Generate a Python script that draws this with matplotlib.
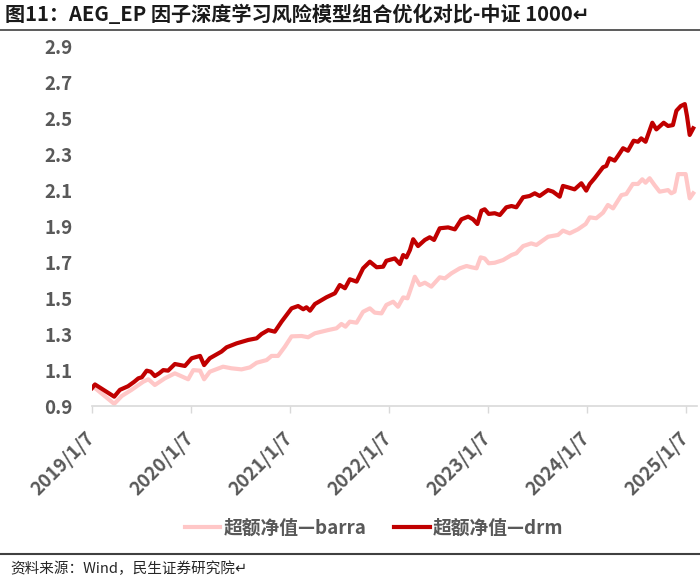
import pandas as pd
import matplotlib
matplotlib.use('Agg')
import matplotlib.pyplot as plt
from matplotlib.lines import Line2D

plt.rcParams['font.family'] = ['Noto Sans CJK SC', 'DejaVu Sans']

title = '图11：AEG_EP 因子深度学习风险模型组合优化对比-中证 1000↵'
source = '资料来源：Wind，民生证券研究院↵'

# excess NAV
barra_dates = [
    '2019-01-07', '2019-01-18', '2019-03-30', '2019-04-27', '2019-06-02', '2019-07-15',
    '2019-08-03', '2019-08-27', '2019-10-03', '2019-11-09', '2019-12-28', '2020-01-16',
    '2020-02-10', '2020-02-25', '2020-03-17', '2020-05-05', '2020-06-05', '2020-07-12',
    '2020-08-12', '2020-09-06', '2020-10-13', '2020-10-31', '2020-11-24', '2020-12-19',
    '2021-01-13', '2021-02-19', '2021-03-15', '2021-04-09', '2021-05-28', '2021-06-28',
    '2021-07-16', '2021-07-31', '2021-08-16', '2021-09-10', '2021-10-04', '2021-10-29',
    '2021-11-16', '2021-12-11', '2021-12-29', '2022-01-23', '2022-02-10', '2022-03-01',
    '2022-03-17', '2022-04-01', '2022-04-13', '2022-05-01', '2022-05-20', '2022-06-13',
    '2022-07-14', '2022-08-02', '2022-08-26', '2022-09-26', '2022-10-21', '2022-11-08',
    '2022-11-27', '2022-12-12', '2022-12-27', '2023-01-11', '2023-02-02', '2023-03-05',
    '2023-04-05', '2023-04-23', '2023-05-18', '2023-06-17', '2023-07-06', '2023-08-18',
    '2023-09-24', '2023-10-12', '2023-11-06', '2023-12-06', '2024-01-04', '2024-01-19',
    '2024-02-12', '2024-03-08', '2024-03-26', '2024-04-14', '2024-05-15', '2024-06-02',
    '2024-06-26', '2024-07-15', '2024-07-31', '2024-08-12', '2024-08-27', '2024-09-14',
    '2024-10-03', '2024-10-21', '2024-11-03', '2024-11-15', '2024-11-27', '2024-12-10',
    '2025-01-07', '2025-01-22', '2025-02-04',
]
barra_nav = [
    1.00, 1.00, 0.912, 0.956, 0.99, 1.035,
    1.049, 1.017, 1.054, 1.082, 1.049, 1.10,
    1.097, 1.049, 1.091, 1.119, 1.11, 1.104,
    1.115, 1.141, 1.156, 1.179, 1.179, 1.23,
    1.288, 1.29, 1.283, 1.305, 1.323, 1.333,
    1.357, 1.342, 1.37, 1.364, 1.425, 1.444,
    1.42, 1.416, 1.463, 1.481, 1.453, 1.505,
    1.50, 1.565, 1.62, 1.574, 1.587, 1.565,
    1.617, 1.611, 1.639, 1.667, 1.68, 1.673,
    1.667, 1.728, 1.722, 1.695, 1.698, 1.713,
    1.741, 1.751, 1.791, 1.806, 1.797, 1.843,
    1.853, 1.877, 1.862, 1.884, 1.914, 1.951,
    1.946, 1.977, 2.02, 2.001, 2.075, 2.081,
    2.137, 2.137, 2.163, 2.144, 2.169, 2.131,
    2.094, 2.099, 2.103, 2.085, 2.094, 2.192,
    2.192, 2.057, 2.085,
]

drm_dates = [
    '2019-01-07', '2019-01-18', '2019-03-30', '2019-04-20', '2019-05-20', '2019-06-12',
    '2019-06-27', '2019-07-10', '2019-07-28', '2019-08-12', '2019-08-27', '2019-09-12',
    '2019-09-27', '2019-10-15', '2019-11-09', '2019-12-16', '2020-01-10', '2020-02-10',
    '2020-02-25', '2020-03-17', '2020-04-29', '2020-05-18', '2020-06-24', '2020-08-06',
    '2020-09-06', '2020-09-24', '2020-10-19', '2020-11-12', '2020-12-07', '2021-01-13',
    '2021-02-06', '2021-02-25', '2021-03-09', '2021-03-22', '2021-04-09', '2021-05-22',
    '2021-06-22', '2021-07-10', '2021-07-29', '2021-08-16', '2021-09-10', '2021-10-04',
    '2021-10-29', '2021-11-23', '2021-12-17', '2021-12-29', '2022-01-29', '2022-02-17',
    '2022-03-01', '2022-03-13', '2022-03-26', '2022-04-07', '2022-04-25', '2022-05-20',
    '2022-06-07', '2022-06-23', '2022-07-14', '2022-08-14', '2022-09-08', '2022-10-02',
    '2022-10-27', '2022-11-14', '2022-11-30', '2022-12-15', '2022-12-27', '2023-01-11',
    '2023-02-02', '2023-02-21', '2023-03-17', '2023-04-05', '2023-04-23', '2023-05-18',
    '2023-06-11', '2023-06-30', '2023-07-18', '2023-08-18', '2023-09-05', '2023-09-30',
    '2023-10-12', '2023-10-31', '2023-11-24', '2023-12-19', '2024-01-06', '2024-01-19',
    '2024-02-06', '2024-03-08', '2024-03-20', '2024-04-01', '2024-04-20', '2024-05-02',
    '2024-05-21', '2024-06-08', '2024-06-29', '2024-07-15', '2024-07-27', '2024-08-12',
    '2024-08-21', '2024-09-06', '2024-09-21', '2024-10-18', '2024-11-03', '2024-11-21',
    '2024-12-04', '2024-12-20', '2025-01-04', '2025-01-12', '2025-01-22', '2025-02-04',
]
drm_nav = [
    1.00, 1.02, 0.952, 0.99, 1.01, 1.035,
    1.054, 1.06, 1.097, 1.091, 1.067, 1.082,
    1.10, 1.097, 1.134, 1.123, 1.166, 1.179,
    1.128, 1.166, 1.203, 1.227, 1.249, 1.268,
    1.277, 1.301, 1.323, 1.314, 1.37, 1.444,
    1.457, 1.439, 1.45, 1.431, 1.468, 1.506,
    1.528, 1.574, 1.556, 1.606, 1.593, 1.667,
    1.704, 1.673, 1.676, 1.709, 1.722, 1.691,
    1.741, 1.728, 1.769, 1.829, 1.791, 1.825,
    1.84, 1.825, 1.89, 1.895, 1.884, 1.94,
    1.955, 1.94, 1.914, 1.988, 1.996, 1.97,
    1.974, 1.964, 2.007, 2.014, 2.007, 2.063,
    2.07, 2.085, 2.07, 2.103, 2.094, 2.066,
    2.126, 2.118, 2.107, 2.141, 2.10, 2.137,
    2.169, 2.23, 2.237, 2.28, 2.267, 2.293,
    2.336, 2.322, 2.378, 2.372, 2.391, 2.372,
    2.41, 2.478, 2.441, 2.478, 2.46, 2.465,
    2.545, 2.571, 2.582, 2.516, 2.41, 2.447,
]

tick_dates = ['2019-01-07', '2020-01-07', '2021-01-07', '2022-01-07',
              '2023-01-07', '2024-01-07', '2025-01-07']
tick_labels = ['2019/1/7', '2020/1/7', '2021/1/7', '2022/1/7',
               '2023/1/7', '2024/1/7', '2025/1/7']
y_ticks = [0.9, 1.1, 1.3, 1.5, 1.7, 1.9, 2.1, 2.3, 2.5, 2.7, 2.9]

fig = plt.figure(figsize=(7, 5.8), dpi=100)
ax = fig.add_axes([92 / 700, 1 - 406 / 580, 605 / 700, 359 / 580])

ax.plot(pd.to_datetime(barra_dates), barra_nav, color='#FFC7C7', lw=3,
        label='超额净值—barra')
ax.plot(pd.to_datetime(drm_dates), drm_nav, color='#C00000', lw=3,
        label='超额净值—drm')

ax.set_ylim(0.9, 2.9)
ax.set_xlim(pd.Timestamp('2019-01-07'), pd.Timestamp('2025-02-18'))
ax.set_yticks(y_ticks)
ax.set_yticklabels([f'{v:.1f}' for v in y_ticks])
ax.set_xticks(pd.to_datetime(tick_dates))
ax.set_xticklabels(tick_labels, rotation=45, ha='right', va='center',
                   rotation_mode='anchor')

for s in ['top', 'right', 'left']:
    ax.spines[s].set_visible(False)
ax.spines['bottom'].set_color('#D9D9D9')
ax.spines['bottom'].set_linewidth(1.2)
ax.tick_params(axis='y', length=0, pad=14, labelsize=13.5, labelcolor='#595959')
ax.tick_params(axis='x', length=5, width=1, color='#D9D9D9', pad=16,
               labelsize=13.5, labelcolor='#595959')
for lbl in ax.get_xticklabels() + ax.get_yticklabels():
    lbl.set_fontweight('bold')

leg = ax.legend(loc='center', bbox_to_anchor=(374 / 700, 1 - 528 / 580),
                bbox_transform=fig.transFigure, ncol=2, frameon=False,
                fontsize=13.5, handlelength=1.9, handletextpad=0.15,
                columnspacing=1.5)
for t in leg.get_texts():
    t.set_fontweight('bold')
    t.set_color('#595959')

fig.text(5 / 700, 1 - 14 / 580, title, fontsize=14.5, fontweight='bold',
         va='center', color='#1a1a1a')
fig.add_artist(Line2D([0, 1], [1 - 30 / 580] * 2, color='#404040', lw=1.2,
                      transform=fig.transFigure))
fig.add_artist(Line2D([0, 1], [1 - 554 / 580] * 2, color='#404040', lw=1.5,
                      transform=fig.transFigure))
fig.text(10 / 700, 1 - 569 / 580, source, fontsize=10.5, va='center',
         color='#262626')

fig.savefig('out.png', dpi=100)
